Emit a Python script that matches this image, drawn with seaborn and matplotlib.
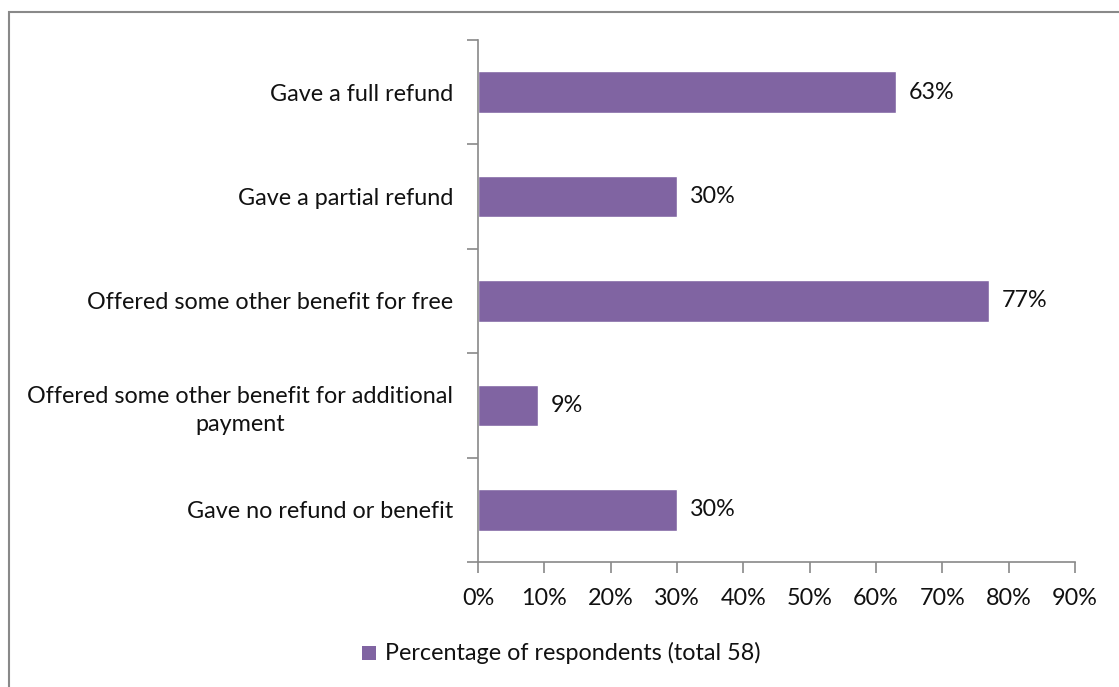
import matplotlib
matplotlib.use("Agg")
import matplotlib.pyplot as plt
import seaborn as sns
import pandas as pd
from matplotlib.patches import Rectangle
from matplotlib.ticker import FixedLocator

categories = [
    "Gave a full refund",
    "Gave a partial refund",
    "Offered some other benefit for free",
    "Offered some other benefit for additional\npayment",
    "Gave no refund or benefit",
]
values = [63, 30, 77, 9, 30]
series_name = "Percentage of respondents (total 58)"
x_ticks = [0, 10, 20, 30, 40, 50, 60, 70, 80, 90]

sns.set_theme(style="white")
plt.rcParams["font.family"] = ["Lato", "DejaVu Sans"]

bar_color = "#8064A2"
grey = "#898989"
text_color = "#111111"
fs = 16.8

df = pd.DataFrame({"category": categories, "value": values})

fig = plt.figure(figsize=(11.19, 6.87), dpi=100)
ax = fig.add_axes([478 / 1119, 1 - 562 / 687, (1075 - 478) / 1119, (562 - 40) / 687])

sns.barplot(data=df, x="value", y="category", color=bar_color, width=0.4,
            saturation=1, ax=ax, orient="h")

ax.set_xlim(0, 90)
ax.set_ylim(len(categories) - 0.5, -0.5)
ax.set_xticks(x_ticks)
ax.set_xticklabels([f"{t}%" for t in x_ticks])
ax.set_xlabel("")
ax.set_ylabel("")

for i, v in enumerate(values):
    ax.text(v + 2.0, i, f"{v}%", va="center", ha="left", fontsize=fs, color=text_color)

for side in ["top", "right"]:
    ax.spines[side].set_visible(False)
for side in ["left", "bottom"]:
    ax.spines[side].set_color(grey)
    ax.spines[side].set_linewidth(1.2)

# category separators on the y axis
ax.yaxis.set_minor_locator(FixedLocator([i - 0.5 for i in range(len(categories) + 1)]))
ax.tick_params(axis="y", which="major", length=0, pad=18, labelsize=fs, labelcolor=text_color)
ax.tick_params(axis="y", which="minor", left=True, length=8, width=1.2, color=grey)
ax.tick_params(axis="x", which="major", bottom=True, length=8, width=1.2, color=grey,
               labelsize=fs, labelcolor=text_color, pad=11)
for lbl in ax.get_yticklabels():
    lbl.set_multialignment("center")
    lbl.set_linespacing(1.4)

# legend
fig.patches.append(Rectangle((362 / 1119, 1 - 660 / 687), 14 / 1119, 14 / 687,
                             transform=fig.transFigure, facecolor=bar_color, edgecolor="none"))
fig.text(385 / 1119, 1 - 653 / 687, series_name, ha="left", va="center",
         fontsize=fs, color=text_color)

# outer frame
fig.patches.append(Rectangle((9 / 1119, -0.05), 1.2, 1 - 12 / 687 + 0.05,
                             transform=fig.transFigure, facecolor="none",
                             edgecolor=grey, linewidth=1.5))

fig.savefig("out.png", dpi=100)
